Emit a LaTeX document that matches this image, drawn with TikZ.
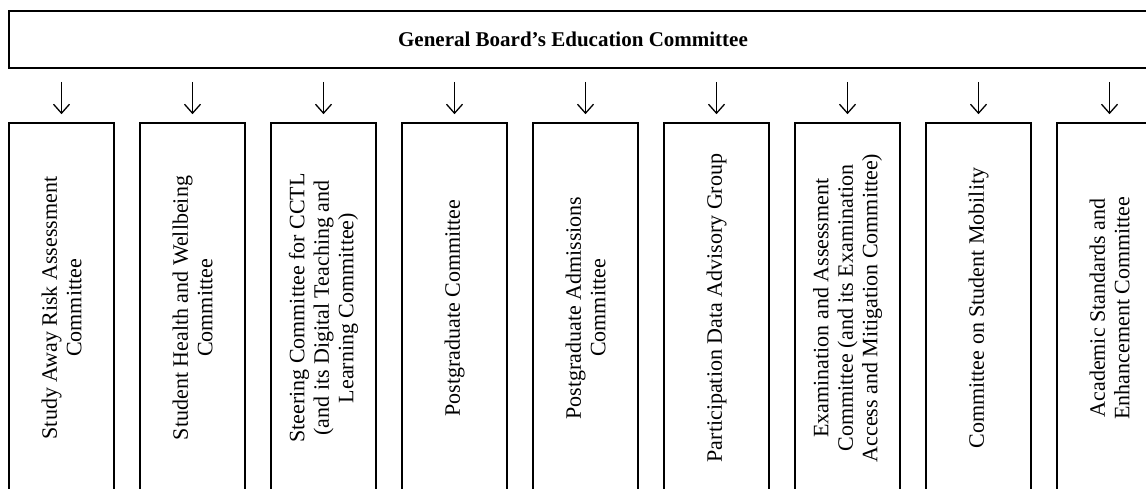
\documentclass[tikz,border=0pt]{standalone}
\usepackage{fontspec}
\setmainfont{Liberation Serif}
\usetikzlibrary{arrows.meta}
\begin{document}
\begin{tikzpicture}[x=1pt,y=-1pt,
  frame/.style={draw,line width=1.6pt,minimum width=1171pt,minimum height=57pt,inner sep=0pt},
  head/.style={font=\bfseries\fontsize{21}{25}\selectfont},
  comm/.style={draw,line width=1.6pt,rotate=90,minimum width=370pt,minimum height=105pt,
    inner sep=0pt,align=center,font=\fontsize{22}{24.5}\selectfont},
  arr/.style={-{Straight Barb[length=9pt,width=16pt]},line width=1.3pt,shorten <=13pt,shorten >=8pt}]
\useasboundingbox (0,0) rectangle (1146,488);
\clip (0,0) rectangle (1146,488);

% --- top: board ---
\node[frame] (board) at (594.5,39.5) {};
\node[head] (title) at (573,39.5) {General Board's Education Committee};

% --- committees ---
\foreach \i/\txt in {1/{Study Away Risk Assessment\\Committee},
  2/{Student Health and Wellbeing\\Committee},
  3/{Steering Committee for CCTL\\(and its Digital Teaching and\\Learning Committee)},
  4/{Postgraduate Committee},
  5/{Postgraduate Admissions\\Committee},
  6/{Participation Data Advisory Group},
  7/{Examination and Assessment\\Committee (and its Examination\\Access and Mitigation Committee)},
  8/{Committee on Student Mobility},
  9/{Academic Standards and\\Enhancement Committee}}
{
  \node[comm] (c\i) at ({61.5+131*(\i-1)},308) {\txt};
  \draw[arr] (board.south -| c\i.center) -- (c\i.east);
}

\end{tikzpicture}
\end{document}
